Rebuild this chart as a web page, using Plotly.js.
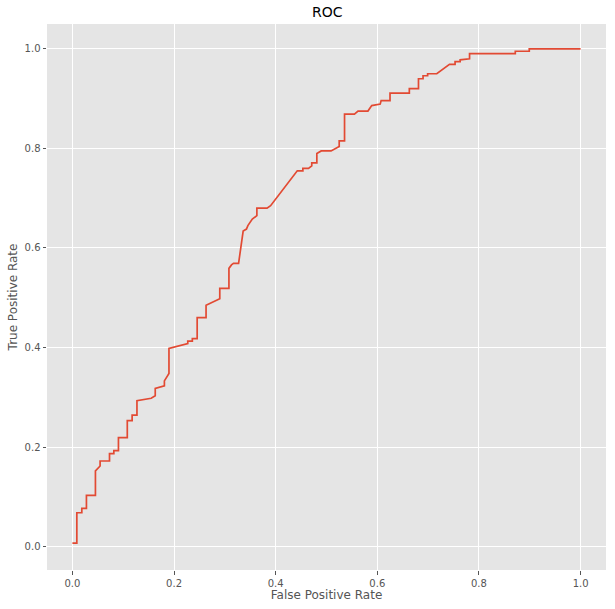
<!DOCTYPE html>
<html>
<head>
<meta charset="utf-8">
<script src="https://cdn.plot.ly/plotly-3.0.1.min.js"></script>
<style>html,body{margin:0;padding:0;background:#fff;}</style>
</head>
<body>
<div id="chart" style="width:615px;height:609px;"></div>
<script>
var fpr = [0.0, 0.0087, 0.0087, 0.0185, 0.0185, 0.0276, 0.0276, 0.0453, 0.0453, 0.0545, 0.0545, 0.073, 0.073, 0.0815, 0.0815, 0.0906, 0.0906,
  0.108, 0.108, 0.1175, 0.1175, 0.127, 0.127, 0.155, 0.163, 0.163, 0.181, 0.181, 0.190, 0.190, 0.227, 0.227, 0.236, 0.236, 0.2455, 0.2455,
  0.263, 0.263, 0.290, 0.290, 0.308, 0.308, 0.313, 0.317, 0.327, 0.336, 0.3425, 0.3453, 0.354, 0.363, 0.363, 0.383, 0.390, 0.4425,
  0.4535, 0.4535, 0.4646, 0.471, 0.471, 0.481, 0.481, 0.4896, 0.509, 0.525, 0.525, 0.5355, 0.5355, 0.555, 0.562, 0.5815, 0.589, 0.6057,
  0.6075, 0.625, 0.625, 0.663, 0.663, 0.681, 0.681, 0.690, 0.690, 0.699, 0.699, 0.717, 0.742, 0.753, 0.753, 0.763, 0.763, 0.7815, 0.7815,
  0.8715, 0.8715, 0.899, 0.899, 1.0];
var tpr = [0.007, 0.007, 0.068, 0.068, 0.077, 0.077, 0.103, 0.103, 0.152, 0.162, 0.172, 0.172, 0.187, 0.187, 0.193, 0.193, 0.219,
  0.219, 0.253, 0.253, 0.264, 0.264, 0.293, 0.298, 0.303, 0.318, 0.323, 0.333, 0.348, 0.398, 0.408, 0.413, 0.413, 0.418, 0.418, 0.46,
  0.46, 0.485, 0.498, 0.519, 0.519, 0.559, 0.566, 0.569, 0.569, 0.634, 0.638, 0.645, 0.658, 0.665, 0.68, 0.68, 0.685, 0.755,
  0.755, 0.76, 0.76, 0.765, 0.771, 0.771, 0.790, 0.795, 0.795, 0.804, 0.815, 0.815, 0.869, 0.869, 0.875, 0.875, 0.886, 0.889,
  0.896, 0.896, 0.911, 0.911, 0.92, 0.92, 0.94, 0.94, 0.946, 0.946, 0.95, 0.95, 0.969, 0.969, 0.9745, 0.9745, 0.978, 0.98, 0.9905,
  0.9905, 0.9953, 0.9953, 1.0, 1.0];
var tickVals = [0.0, 0.2, 0.4, 0.6, 0.8, 1.0];
var tickText = ["0.0", "0.2", "0.4", "0.6", "0.8", "1.0"];

var font = "DejaVu Sans, sans-serif";
var axisCommon = {
  tickvals: tickVals, ticktext: tickText,
  showgrid: true, gridcolor: "#ffffff", gridwidth: 1,
  zeroline: false, showline: false,
  ticks: "outside", ticklen: 3.5, tickwidth: 1, tickcolor: "#555555",
  tickfont: {family: font, size: 10, color: "#555555"},
  automargin: false
};
var layout = {
  width: 615, height: 609,
  margin: {l: 47, r: 9, t: 24, b: 39, pad: 0},
  paper_bgcolor: "#ffffff", plot_bgcolor: "#E5E5E5",
  showlegend: false,
  title: {text: "ROC", font: {family: font, size: 14, color: "#000000"}, x: 0.532, xanchor: "center", y: 1 - 12/609, yanchor: "middle", yref: "container"},
  xaxis: Object.assign({}, axisCommon, {
    range: [-0.05, 1.05],
    title: {text: "False Positive Rate", font: {family: font, size: 12, color: "#555555"}, standoff: 2}
  }),
  yaxis: Object.assign({}, axisCommon, {
    range: [-0.047, 1.05],
    title: {text: "True Positive Rate", font: {family: font, size: 12, color: "#555555"}, standoff: 4}
  })
};
var trace = {
  x: fpr, y: tpr, type: "scatter", mode: "lines",
  line: {color: "#E24A33", width: 1.7}, hoverinfo: "none"
};
Plotly.newPlot("chart", [trace], layout, {displayModeBar: false, staticPlot: true});
</script>
</body>
</html>
